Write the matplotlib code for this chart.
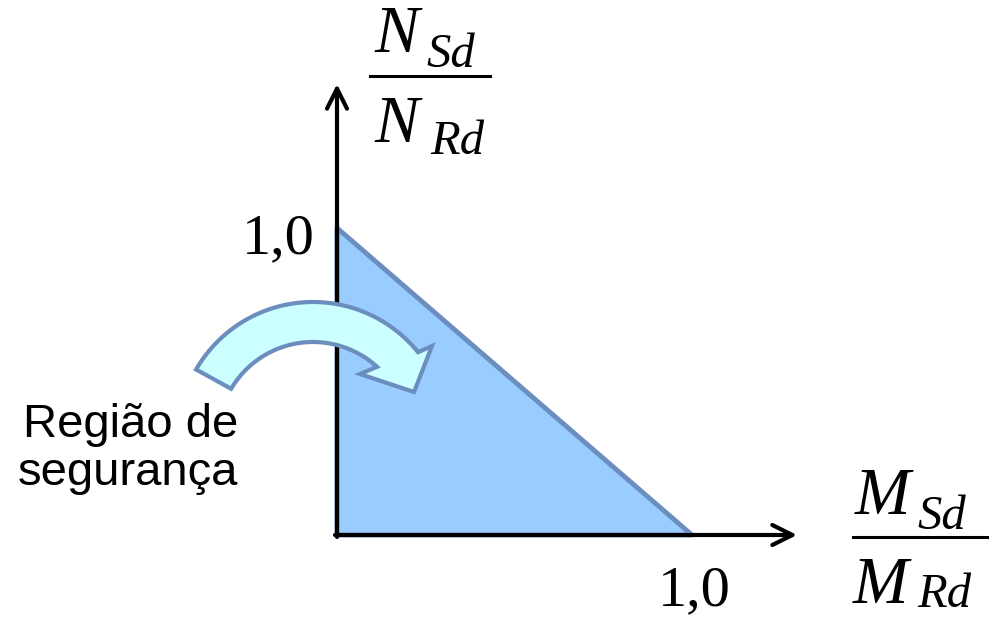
import numpy as np
import matplotlib.pyplot as plt
from matplotlib.transforms import Affine2D
from matplotlib.patches import Polygon
from matplotlib.lines import Line2D

W, H = 996, 619

# interaction diagram: M_Sd/M_Rd + N_Sd/N_Rd <= 1
m_ratio = [0.0, 1.0, 0.0]
n_ratio = [0.0, 0.0, 1.0]
x_tick = 1.0
y_tick = 1.0
tick_label = '1,0'
region_label = ['Região de', 'segurança']

fill_c = '#99CCFF'
edge_c = '#6C8EBF'
arrow_fill = '#CCFFFF'
serif = 'Liberation Serif'
sans = 'Liberation Sans'

fig = plt.figure(figsize=(W / 100, H / 100), dpi=100)
ax = fig.add_axes([0, 0, 1, 1])
ox, oy = 337, 535      # origin (pixels)
sx, sy = 355, 307      # pixels per unit
ax.set_xlim(-ox / sx, (W - ox) / sx)
ax.set_ylim(-(H - oy) / sy, oy / sy)
ax.axis('off')

# pixel transform (y down) for decorations and labels
pix = Affine2D().scale(1, -1).translate(0, H)

ax.fill(m_ratio, n_ratio, facecolor=fill_c, edgecolor=edge_c, lw=3.5,
        joinstyle='round', zorder=1)

# axes with arrows
arw = dict(arrowstyle='->,head_length=0.4,head_width=0.2', lw=3, color='black',
           mutation_scale=36, shrinkA=0, shrinkB=0)
ax.annotate('', xy=((797 - ox) / sx, 0), xytext=(-2 / sx, 0), arrowprops=arw, zorder=3)
ax.annotate('', xy=(0, (oy - 84) / sy), xytext=(0, -2 / sy), arrowprops=arw, zorder=3)

# curved block arrow
cx, cy, r_out, r_in = 313, 437, 135, 95
t_out = np.radians(np.linspace(150, 38.9, 80))
t_in = np.radians(np.linspace(47.6, 149.5, 80))
outer = np.c_[cx + r_out * np.cos(t_out), cy - r_out * np.sin(t_out)]
inner = np.c_[cx + r_in * np.cos(t_in), cy - r_in * np.sin(t_in)]
head = np.array([[432, 346], [414, 392], [360, 374]])
curve = Polygon(np.vstack([outer, head, inner]), closed=True, transform=pix,
                facecolor=arrow_fill, edgecolor=edge_c, lw=3, joinstyle='miter',
                zorder=4, clip_on=False)
ax.add_patch(curve)


def ptext(x, y, s, **kw):
    kw.setdefault('va', 'baseline')
    fig.text(x, y, s, transform=pix, **kw)


# tick labels
ptext(278, 253, tick_label, ha='center', fontsize=42, family=serif)
ptext(694, 605, tick_label, ha='center', fontsize=42, family=serif)

# axis titles as fractions
it = dict(family=serif, style='italic', ha='left')
ptext(374, 52, 'N', fontsize=48, **it)
ptext(426, 67, 'Sd', fontsize=35, **it)
fig.add_artist(Line2D([370, 490], [76, 76], transform=pix, lw=2.2, color='black'))
ptext(374, 142, 'N', fontsize=48, **it)
ptext(430, 154, 'Rd', fontsize=35, **it)

ptext(855, 514, 'M', fontsize=48, **it)
ptext(917, 529, 'Sd', fontsize=35, **it)
fig.add_artist(Line2D([853, 987], [537, 537], transform=pix, lw=2.2, color='black'))
ptext(853, 603, 'M', fontsize=48, **it)
ptext(917, 607, 'Rd', fontsize=35, **it)

# region label
ptext(238, 437, region_label[0], ha='right', fontsize=34, family=sans)
ptext(238, 485, region_label[1], ha='right', fontsize=34, family=sans)

fig.savefig('out.png', dpi=100)
